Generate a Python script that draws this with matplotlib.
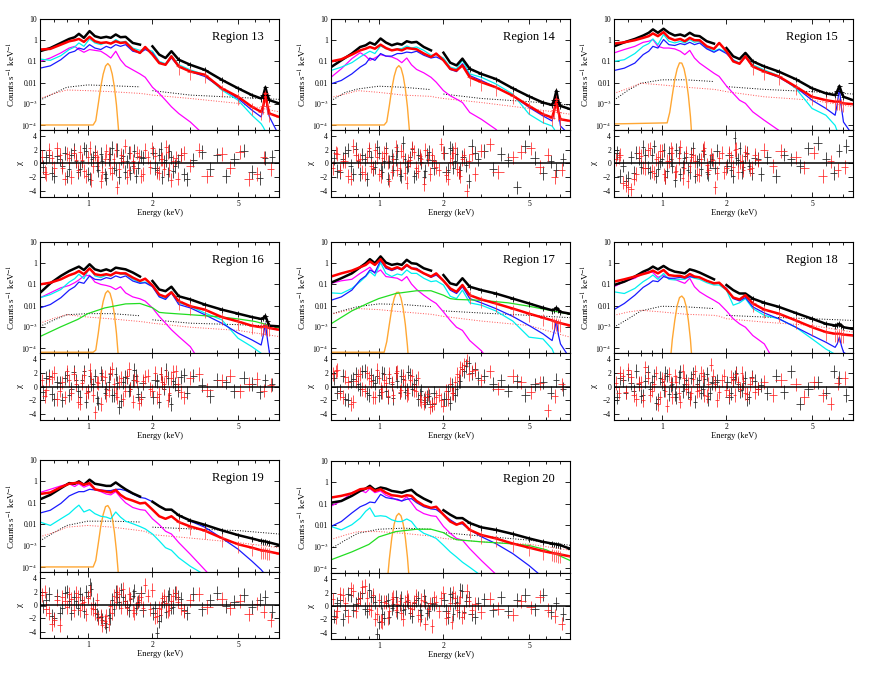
import numpy as np
import matplotlib
matplotlib.use('Agg')
import matplotlib.pyplot as plt
from matplotlib.ticker import FixedLocator, NullFormatter, NullLocator

plt.rcParams['font.family'] = ['Liberation Serif', 'DejaVu Serif']
plt.rcParams['mathtext.fontset'] = 'stix'

nan = np.nan
REGIONS = [13, 14, 15, 16, 17, 18, 19, 20]

# energy grid (keV) of the model / data curves
E_GRID = [0.6, 0.67, 0.75, 0.82, 0.87, 0.91, 0.96, 1.02, 1.08, 1.15, 1.22, 1.28,
          1.35, 1.42, 1.5, 1.62, 1.75, 1.85, 2.0, 2.15, 2.3, 2.45, 2.65, 3.0,
          3.5, 4.2, 5.0, 5.8, 6.4, 6.55, 6.7, 6.85, 7.0, 7.75]
E_BKG = [0.6, 0.7, 0.8, 1.0, 1.3, 1.75, 1.85, 2.0, 3.0, 5.0, 7.75]
E_GREEN = [0.6, 0.75, 0.9, 1.0, 1.2, 1.5, 1.75, 2.0, 2.15, 2.3, 3.0, 4.0, 5.0, 6.0, 7.75]
E_LINE = [0.6, 1.06, 1.09, 1.12, 1.15, 1.18, 1.21, 1.24, 1.27, 1.30, 1.33, 1.36, 1.39, 1.42]

# all spectra below are log10(counts s^-1 keV^-1)
black_spec = {
    13: [-0.52, -0.37, -0.13, 0.06, 0.14, 0.30, 0.11, 0.43, 0.19, 0.11, 0.16, 0.11, 0.27, 0.14, 0.16, -0.13, -0.21, nan, -0.29, -0.68, -0.84, -0.52, -0.92, -1.16, -1.40, -1.87, -2.27, -2.59, -2.75, -2.6, -2.22, -2.6, -2.83, -2.98],
    14: [-1.27, -0.95, -0.63, -0.32, -0.24, -0.11, -0.21, 0.08, -0.11, -0.24, -0.16, -0.21, -0.05, -0.11, -0.08, -0.32, -0.48, nan, -0.59, -1.06, -1.19, -0.87, -1.35, -1.59, -1.83, -2.27, -2.65, -2.94, -3.06, -2.8, -2.38, -2.9, -3.10, -3.25],
    15: [-0.29, -0.10, 0.06, 0.22, 0.35, 0.51, 0.35, 0.54, 0.35, 0.22, 0.27, 0.19, 0.35, 0.22, 0.19, -0.05, -0.16, nan, -0.37, -0.76, -0.89, -0.60, -1.00, -1.24, -1.48, -1.84, -2.27, -2.51, -2.59, -2.4, -2.16, -2.45, -2.67, -2.83],
    16: [-1.40, -0.95, -0.60, -0.37, -0.25, -0.16, -0.32, -0.05, -0.29, -0.37, -0.29, -0.37, -0.21, -0.25, -0.29, -0.44, -0.63, nan, -0.84, -1.24, -1.32, -1.11, -1.56, -1.71, -1.95, -2.19, -2.38, -2.54, -2.63, -2.58, -2.48, -2.75, -2.95, -2.98],
    17: [-0.92, -0.71, -0.48, -0.19, 0.0, 0.19, 0.0, 0.32, 0.03, -0.08, -0.03, -0.08, 0.16, 0.0, -0.03, -0.24, -0.35, nan, -0.56, -0.95, -1.03, -0.71, -1.11, -1.27, -1.43, -1.67, -1.90, -2.10, -2.22, -2.18, -2.10, -2.2, -2.30, -2.38],
    18: [-1.03, -0.87, -0.63, -0.40, -0.29, -0.16, -0.29, -0.13, -0.29, -0.40, -0.44, -0.48, -0.29, -0.35, -0.44, -0.60, -0.76, nan, -1.03, -1.27, -1.43, -1.43, -1.67, -1.87, -2.06, -2.35, -2.62, -2.86, -2.94, -2.9, -2.86, -2.95, -3.02, -3.10],
    19: [-0.84, -0.63, -0.32, -0.08, -0.11, 0.0, -0.16, 0.08, -0.11, -0.16, -0.21, -0.21, -0.05, -0.21, -0.37, -0.56, -0.71, nan, -0.95, -1.16, -1.32, -1.32, -1.59, -1.83, -2.03, -2.29, -2.51, -2.67, -2.78, -2.8, -2.81, -2.84, -2.86, -2.97],
    20: [-0.95, -0.87, -0.63, -0.40, -0.29, -0.16, -0.35, -0.24, -0.29, -0.40, -0.44, -0.48, -0.40, -0.35, -0.56, -0.76, -0.92, nan, -1.30, -1.51, -1.67, -1.67, -1.90, -2.10, -2.22, -2.41, -2.62, -2.78, -2.86, -2.88, -2.89, -2.92, -2.94, -3.10],
}
red_spec = {
    13: [-0.44, -0.41, -0.21, -0.05, 0.0, 0.06, -0.08, 0.16, -0.05, -0.13, -0.10, -0.16, -0.05, -0.13, -0.10, -0.44, -0.60, -0.32, -0.68, -1.08, -1.16, -0.76, -1.24, -1.48, -1.63, -2.27, -2.67, -3.14, -3.38, -3.1, -2.51, -3.1, -3.46, -3.62],
    14: [-1.0, -0.9, -0.68, -0.48, -0.40, -0.32, -0.40, -0.21, -0.37, -0.48, -0.43, -0.48, -0.37, -0.40, -0.43, -0.63, -0.79, -0.63, -0.95, -1.35, -1.43, -1.19, -1.75, -1.98, -2.22, -2.62, -3.10, -3.49, -3.65, -3.3, -2.78, -3.4, -3.73, -3.81],
    15: [-0.16, -0.10, 0.0, 0.11, 0.19, 0.32, 0.19, 0.38, 0.11, 0.0, 0.06, -0.05, 0.11, 0.0, 0.0, -0.29, -0.41, -0.13, -0.52, -1.00, -1.11, -0.76, -1.24, -1.48, -1.71, -2.19, -2.67, -2.83, -2.90, -2.9, -2.9, -2.95, -2.98, -3.02],
    16: [-1.0, -0.92, -0.76, -0.57, -0.48, -0.37, -0.52, -0.25, -0.52, -0.57, -0.52, -0.57, -0.44, -0.48, -0.48, -0.68, -0.84, -0.73, -1.05, -1.48, -1.59, -1.37, -1.79, -2.03, -2.19, -2.54, -2.75, -2.95, -3.02, -3.0, -2.98, -3.03, -3.06, -3.14],
    17: [-0.63, -0.48, -0.35, -0.19, -0.08, 0.08, -0.08, 0.19, -0.16, -0.29, -0.19, -0.29, -0.08, -0.24, -0.29, -0.48, -0.63, -0.48, -0.83, -1.19, -1.35, -1.03, -1.51, -1.71, -1.90, -2.14, -2.38, -2.57, -2.70, -2.74, -2.78, -2.8, -2.83, -2.94],
    18: [-0.87, -0.76, -0.63, -0.51, -0.44, -0.35, -0.48, -0.32, -0.56, -0.60, -0.60, -0.67, -0.51, -0.63, -0.67, -0.83, -0.95, -0.92, -1.24, -1.62, -1.71, -1.51, -1.90, -2.19, -2.38, -2.70, -3.02, -3.25, -3.33, -3.33, -3.33, -3.35, -3.37, -3.41],
    19: [-0.59, -0.52, -0.27, -0.11, -0.08, -0.05, -0.16, -0.08, -0.37, -0.43, -0.48, -0.52, -0.40, -0.63, -0.79, -0.90, -1.03, -1.00, -1.32, -1.63, -1.75, -1.63, -1.90, -2.11, -2.30, -2.65, -2.94, -3.10, -3.22, -3.24, -3.25, -3.27, -3.29, -3.38],
    20: [-0.71, -0.63, -0.51, -0.32, -0.29, -0.24, -0.40, -0.32, -0.48, -0.60, -0.63, -0.67, -0.60, -0.63, -0.87, -1.08, -1.19, -1.14, -1.51, -1.83, -1.98, -1.87, -2.22, -2.46, -2.62, -2.86, -3.05, -3.21, -3.30, -3.32, -3.33, -3.35, -3.37, -3.46],
}
cyan_comp = {
    13: [-0.89, -0.95, -0.73, -0.44, -0.32, -0.13, -0.29, 0.06, -0.13, -0.21, -0.10, -0.16, 0.03, -0.10, -0.05, -0.37, -0.48, -0.41, -0.52, -1.00, -1.11, -0.73, -1.16, -1.40, -1.63, -2.35, -2.83, -3.54, -3.94, -4.1, -4.3, -4.5, -4.5, -4.5],
    14: [-1.43, -1.27, -1.06, -0.79, -0.63, -0.52, -0.63, -0.27, -0.40, -0.48, -0.40, -0.40, -0.27, -0.37, -0.32, -0.48, -0.71, -0.68, -0.84, -1.27, -1.35, -0.95, -1.59, -1.75, -2.06, -2.54, -3.49, -3.89, -4.05, -4.2, -4.5, -4.5, -4.5, -4.5],
    15: [-1.0, -0.92, -0.63, -0.29, -0.16, 0.06, -0.21, 0.27, -0.05, -0.13, -0.05, -0.13, 0.03, -0.10, -0.05, -0.37, -0.52, -0.41, -0.57, -0.92, -1.08, -0.73, -1.16, -1.40, -1.68, -2.27, -3.22, -3.54, -4.02, -4.3, -4.5, -4.5, -4.5, -4.5],
    16: [-1.63, -1.48, -1.24, -0.89, -0.73, -0.52, -0.73, -0.21, -0.60, -0.68, -0.57, -0.60, -0.41, -0.52, -0.52, -0.76, -0.92, -0.89, -1.08, -1.56, -1.68, -1.32, -1.87, -2.03, -2.35, -2.67, -3.54, -3.94, -4.25, -4.4, -4.5, -4.5, -4.5, -4.5],
    17: [-1.40, -1.43, -1.19, -0.87, -0.63, -0.40, -0.60, 0.03, -0.48, -0.63, -0.51, -0.56, -0.32, -0.48, -0.48, -0.71, -0.87, -0.83, -1.03, -1.56, -1.67, -1.27, -1.87, -1.98, -2.25, -2.73, -3.49, -3.57, -4.05, -4.3, -4.5, -4.5, -4.5, -4.5],
    18: [-1.35, -1.43, -1.19, -0.87, -0.71, -0.56, -0.76, -0.48, -0.76, -0.79, -0.76, -0.76, -0.63, -0.71, -0.76, -0.92, -1.03, -1.03, -1.27, -1.98, -1.87, -1.67, -2.14, -2.46, -2.62, -3.02, -3.57, -4.05, -4.3, -4.5, -4.5, -4.5, -4.5, -4.5],
    19: [-1.90, -2.06, -1.75, -1.51, -1.27, -1.11, -1.43, -1.32, -1.51, -1.63, -1.67, -1.75, -1.43, -1.67, -1.86, -1.98, -2.11, -2.22, -2.46, -2.78, -3.10, -3.22, -3.57, -3.97, -4.37, -5, -5, -5, -5, -5, -5, -5, -5, -5],
    20: [-2.06, -2.22, -1.98, -1.67, -1.35, -1.19, -1.59, -1.56, -1.59, -1.75, -1.83, -1.83, -1.71, -1.83, -2.14, -2.38, -2.51, -2.62, -2.94, -3.25, -3.49, -3.73, -3.97, -4.37, -5, -5, -5, -5, -5, -5, -5, -5, -5, -5],
}
blue_comp = {
    13: [-1.32, -1.21, -0.92, -0.60, -0.52, -0.37, -0.44, -0.21, -0.37, -0.44, -0.29, -0.37, -0.21, -0.29, -0.21, -0.52, -0.60, -0.44, -0.60, -1.05, -1.16, -0.84, -1.24, -1.48, -1.71, -2.27, -2.75, -3.30, -3.62, -3.2, -2.27, -3.3, -3.62, -4.5],
    14: [-2.06, -1.90, -1.59, -1.27, -1.11, -0.84, -0.95, -0.63, -0.75, -0.75, -0.63, -0.63, -0.56, -0.59, -0.52, -0.71, -0.84, -0.79, -0.95, -1.38, -1.48, -1.11, -1.67, -1.90, -2.22, -2.62, -3.17, -3.57, -3.81, -3.3, -2.54, -3.4, -4.05, -4.5],
    15: [-1.43, -1.32, -1.08, -0.68, -0.52, -0.29, -0.37, 0.03, -0.21, -0.25, -0.16, -0.21, -0.10, -0.21, -0.13, -0.41, -0.57, -0.44, -0.63, -0.95, -1.11, -0.79, -1.24, -1.48, -1.75, -2.22, -2.83, -3.22, -3.54, -3.0, -2.27, -3.2, -3.86, -4.5],
    16: [-2.11, -1.95, -1.63, -1.27, -1.11, -0.89, -0.95, -0.60, -0.76, -0.79, -0.68, -0.73, -0.60, -0.68, -0.60, -0.84, -0.95, -0.92, -1.11, -1.59, -1.71, -1.40, -1.95, -2.11, -2.43, -2.83, -3.30, -3.62, -3.86, -3.4, -2.83, -3.6, -4.25, -4.5],
    17: [-1.75, -1.59, -1.27, -0.79, -0.60, -0.32, -0.44, 0.13, -0.24, -0.35, -0.24, -0.32, -0.13, -0.24, -0.24, -0.48, -0.67, -0.56, -0.83, -1.27, -1.43, -1.11, -1.67, -1.87, -2.14, -2.51, -2.94, -3.33, -3.65, -3.2, -2.70, -3.4, -3.81, -4.5],
    18: [-2.19, -1.90, -1.51, -1.14, -0.98, -0.83, -0.87, -0.63, -0.71, -0.71, -0.67, -0.71, -0.63, -0.67, -0.67, -0.83, -0.95, -0.95, -1.19, -1.67, -1.78, -1.62, -2.06, -2.35, -2.62, -3.02, -3.41, -3.73, -3.97, -3.8, -3.49, -3.9, -4.2, -4.5],
    19: [-1.48, -1.35, -1.03, -0.68, -0.56, -0.48, -0.48, -0.37, -0.40, -0.40, -0.43, -0.43, -0.37, -0.37, -0.43, -0.59, -0.75, -0.79, -0.95, -1.16, -1.32, -1.32, -1.59, -1.86, -2.14, -2.65, -3.17, -3.73, -4.13, -4.25, -4.37, -4.5, -4.6, -5],
    20: [-2.06, -1.83, -1.43, -1.14, -1.03, -0.92, -0.95, -0.56, -0.71, -0.76, -0.79, -0.87, -0.79, -0.76, -0.95, -1.14, -1.24, -1.27, -1.51, -1.75, -1.94, -1.94, -2.22, -2.54, -2.86, -3.33, -3.89, -4.44, -5, -5, -5, -5, -5, -5],
}
magenta_comp = {
    13: [-1.00, -0.84, -0.60, -0.37, -0.29, -0.44, -0.57, -0.44, -0.48, -0.52, -0.68, -0.84, -0.52, -0.92, -1.21, -1.40, -1.59, -1.75, -2.22, -2.51, -2.83, -3.14, -3.46, -3.86, -4.5, -5, -5, -5, -5, -5, -5, -5, -5, -5],
    14: [-1.75, -1.35, -0.87, -0.59, -0.75, -0.95, -0.84, -0.68, -0.75, -0.79, -0.90, -1.06, -0.84, -1.16, -1.38, -1.54, -1.75, -1.98, -2.38, -2.62, -2.78, -2.94, -3.41, -3.73, -4.2, -5, -5, -5, -5, -5, -5, -5, -5, -5],
    15: [-0.60, -0.44, -0.29, -0.10, -0.05, 0.03, -0.29, -0.37, -0.37, -0.41, -0.52, -0.68, -0.48, -0.84, -1.08, -1.32, -1.56, -1.71, -2.16, -2.51, -2.83, -2.98, -3.38, -3.78, -4.25, -5, -5, -5, -5, -5, -5, -5, -5, -5],
    16: [-1.63, -1.40, -1.16, -1.05, -0.92, -0.79, -0.60, -0.57, -0.89, -1.00, -1.05, -1.11, -1.24, -1.11, -1.40, -1.59, -1.68, -1.79, -2.11, -2.51, -2.83, -3.14, -3.46, -3.94, -5, -5, -5, -5, -5, -5, -5, -5, -5, -5],
    17: [-0.95, -0.83, -0.76, -0.48, -0.32, -0.19, -0.48, -0.32, -0.63, -0.67, -0.71, -0.83, -0.63, -0.98, -1.24, -1.51, -1.75, -1.90, -2.30, -2.70, -3.02, -3.17, -3.65, -4.13, -5, -5, -5, -5, -5, -5, -5, -5, -5, -5],
    18: [-1.11, -0.87, -0.71, -0.48, -0.40, -0.44, -0.67, -0.56, -0.71, -0.76, -0.87, -0.95, -0.71, -1.11, -1.35, -1.56, -1.75, -1.90, -2.25, -2.62, -2.86, -3.02, -3.41, -3.81, -5, -5, -5, -5, -5, -5, -5, -5, -5, -5],
    19: [-0.52, -0.37, -0.21, -0.11, -0.24, -0.11, -0.27, -0.16, -0.37, -0.48, -0.59, -0.63, -0.48, -0.75, -1.00, -1.22, -1.32, -1.35, -1.75, -2.02, -2.33, -2.46, -2.86, -3.41, -4.13, -5, -5, -5, -5, -5, -5, -5, -5, -5],
    20: [-1.11, -0.87, -0.48, -0.35, -0.48, -0.29, -0.48, -0.40, -0.60, -0.71, -0.83, -0.87, -0.67, -0.95, -1.27, -1.46, -1.56, -1.59, -2.06, -2.38, -2.62, -2.70, -3.10, -3.65, -4.29, -5, -5, -5, -5, -5, -5, -5, -5, -5],
}
green_comp = {
    16: [-3.46, -3.0, -2.65, -2.38, -2.11, -1.92, -1.9, -2.1, -2.32, -2.35, -2.43, -2.52, -2.63, -2.75, -3.05],
    17: [-2.86, -2.25, -1.87, -1.67, -1.43, -1.30, -1.30, -1.51, -1.67, -1.71, -1.75, -1.87, -2.03, -2.19, -2.41],
    20: [-3.62, -3.25, -2.90, -2.55, -2.30, -2.19, -2.19, -2.35, -2.55, -2.68, -2.78, -2.86, -2.95, -3.15, -3.65],
}
orange_line = {
    13: [-4.0, -4.0, -3.8, -3.0, -2.2, -1.6, -1.22, -1.1, -1.22, -1.6, -2.2, -3.05, -4.2, -6],
    14: [-4.0, -4.0, -3.85, -3.1, -2.3, -1.7, -1.32, -1.2, -1.32, -1.7, -2.3, -3.15, -4.3, -6],
    15: [-3.95, -3.9, -3.4, -2.6, -1.85, -1.35, -1.07, -1.08, -1.35, -1.85, -2.6, -3.6, -5, -6],
    16: [-4.2, -4.2, -4.1, -3.3, -2.4, -1.8, -1.42, -1.3, -1.42, -1.8, -2.4, -3.3, -4.5, -6],
    17: [-4.2, -4.2, -3.7, -2.9, -2.15, -1.65, -1.38, -1.37, -1.65, -2.15, -2.9, -3.9, -5.2, -6],
    18: [-6, -6, -4.9, -3.6, -2.7, -2.0, -1.62, -1.55, -1.67, -2.05, -2.7, -3.6, -4.9, -6],
    19: [-4.0, -4.0, -3.7, -2.9, -2.1, -1.55, -1.18, -1.13, -1.3, -1.7, -2.35, -3.25, -4.4, -6],
    20: [-6, -6, -4.9, -3.6, -2.6, -1.95, -1.57, -1.45, -1.57, -1.95, -2.6, -3.5, -4.7, -6],
}
black_bkg = {
    13: [-2.83, -2.5, -2.22, -2.11, -2.15, -2.2, nan, -2.38, -2.59, -2.7, -2.79],
    14: [-2.86, -2.46, -2.30, -2.17, -2.22, -2.33, nan, -2.54, -2.75, -2.90, -3.06],
    15: [-2.83, -2.35, -2.03, -1.87, -1.87, -1.95, nan, -2.19, -2.32, -2.43, -2.54],
    16: [-2.98, -2.67, -2.43, -2.38, -2.38, -2.48, nan, -2.67, -2.83, -2.90, -2.98],
    17: [-2.40, -2.20, -2.05, -1.92, -1.95, -2.05, nan, -2.25, -2.35, -2.46, -2.57],
    18: [-3.02, -2.62, -2.25, -2.03, -2.06, -2.14, nan, -2.46, -2.54, -2.62, -2.70],
    19: [-2.78, -2.38, -2.06, -1.86, -1.86, -1.90, nan, -2.14, -2.22, -2.30, -2.46],
    20: [-3.10, -2.70, -2.38, -2.19, -2.14, -2.19, nan, -2.35, -2.51, -2.70, -2.94],
}
red_bkg = {
    13: [-2.75, -2.51, -2.35, -2.38, -2.43, -2.51, -2.54, -2.59, -2.75, -2.98, -3.38],
    14: [-2.70, -2.54, -2.38, -2.46, -2.59, -2.65, -2.70, -2.75, -2.94, -3.22, -3.49],
    15: [-2.51, -2.27, -2.03, -2.11, -2.22, -2.32, -2.36, -2.43, -2.67, -2.83, -3.14],
    16: [-2.83, -2.59, -2.43, -2.54, -2.63, -2.75, -2.78, -2.83, -3.02, -3.17, -3.46],
    17: [-2.41, -2.25, -2.14, -2.19, -2.30, -2.41, -2.45, -2.51, -2.73, -2.94, -3.49],
    18: [-2.46, -2.30, -2.22, -2.30, -2.41, -2.46, -2.5, -2.62, -2.78, -2.94, -3.25],
    19: [-2.59, -2.38, -2.14, -2.06, -2.14, -2.30, -2.34, -2.49, -2.65, -2.86, -3.10],
    20: [-2.67, -2.46, -2.30, -2.30, -2.38, -2.51, -2.55, -2.62, -2.78, -2.89, -3.17],
}

# residual energies and chi values (two interleaved sets per instrument)
E_RES_BLACK = [0.62, 0.66, 0.70, 0.74, 0.78, 0.82, 0.86, 0.90, 0.94, 0.98, 1.02, 1.06, 1.10, 1.15, 1.20,
               1.25, 1.30, 1.35, 1.40, 1.46, 1.52, 1.58, 1.65, 1.72, 1.80, 2.02, 2.1, 2.18, 2.26, 2.35,
               2.45, 2.55, 2.7, 2.9, 3.1, 3.4, 3.7, 4.0, 4.4, 4.8, 5.3, 5.8, 6.3, 6.7, 7.2]
E_RES_RED = [0.61, 0.64, 0.68, 0.72, 0.76, 0.80, 0.84, 0.88, 0.92, 0.96, 1.00, 1.04, 1.08, 1.12, 1.17,
             1.22, 1.27, 1.32, 1.37, 1.43, 1.49, 1.55, 1.62, 1.69, 1.77, 1.85, 1.95, 2.05, 2.14, 2.22,
             2.31, 2.4, 2.5, 2.62, 2.8, 3.0, 3.3, 3.6, 4.2, 4.6, 5.1, 5.6, 6.1, 6.6, 7.1]
E_RES_BLACK2 = [0.64, 0.68, 0.72, 0.76, 0.80, 0.84, 0.88, 0.92, 0.96, 1.00, 1.04, 1.08, 1.12, 1.17, 1.22,
                1.27, 1.32, 1.37, 1.43, 1.49, 1.55, 1.62, 1.68, 1.76, 2.06, 2.14, 2.22, 2.30, 2.40, 2.5,
                2.62, 2.8]
E_RES_RED2 = [0.63, 0.66, 0.70, 0.74, 0.78, 0.82, 0.86, 0.90, 0.94, 0.98, 1.02, 1.06, 1.10, 1.15, 1.20,
              1.25, 1.30, 1.35, 1.40, 1.46, 1.52, 1.58, 1.65, 1.73, 1.81, 1.90, 2.0, 2.1, 2.18, 2.26,
              2.35, 2.45, 2.56, 2.7]
black_chi = {
    13: [-0.5, 1.2, -1.8, 0.6, 1.5, -0.8, 2.0, -1.2, 0.4, 1.8, -2.2, 0.9, -0.3, 1.4, -1.6, 0.7, 2.3, -0.9, -2.0, 1.1, 0.3, -1.4, 1.9, -0.6, 0.8, 1.6, -1.0, 2.1, 0.2, -1.5, 0.9, -0.4, 1.3, -2.3, 0.5, 1.7, -0.8, 1.2, -1.8, 0.6, 1.9, -1.2, -2.1, 0.8, 1.0],
    14: [0.8, -1.2, 1.6, -0.4, 2.1, -1.5, 0.6, 1.9, -0.8, 2.4, -1.0, 0.3, -2.2, 1.1, 0.7, -1.6, 3.0, -0.5, 0.9, -1.9, 1.3, 0.2, -1.1, 1.7, -0.7, 1.5, -0.9, 2.0, 0.4, -1.3, 1.0, -0.2, 2.6, 0.6, 1.8, -0.8, 1.4, 0.5, -3.5, 2.5, 0.8, -1.4, 0.3, -1.0, 0.6],
    15: [1.5, -0.3, -2.1, -1.4, 0.8, 2.4, -0.6, 1.2, -1.8, 0.4, 2.0, -1.1, 0.7, -2.4, 1.6, -0.5, 1.0, -1.3, 2.2, 0.3, -0.8, 1.4, -1.6, 0.6, 1.9, -0.4, -1.0, 3.8, 0.5, -1.2, 1.1, -0.3, 0.8, -1.5, 0.9, -1.8, 1.3, 0.6, -0.4, 2.2, 3.0, 0.7, -1.4, 1.9, 2.6],
    16: [-0.8, 1.6, -1.9, 0.5, 1.2, -1.3, 2.1, -0.6, 0.9, -2.2, 1.5, 0.3, -1.7, 2.0, -0.9, 0.7, -1.2, 1.8, -3.0, 0.6, 1.3, -0.4, 2.4, -1.1, 0.5, -1.6, 0.8, 1.9, -0.3, 1.2, -2.6, 0.4, 1.4, -0.9, 1.6, 0.2, -1.4, 1.0, 0.6, -0.7, 1.3, 0.4, -0.8, 0.9, 0.3],
    17: [1.2, -0.6, -1.9, 0.8, 1.8, -0.4, 2.3, -1.2, 0.9, 1.5, -0.8, 1.9, -1.5, 0.4, 2.0, -0.9, 1.1, -0.5, 1.7, 0.3, -1.8, -0.6, -2.2, -1.4, -0.9, -1.8, -0.7, 0.3, -1.2, 0.8, 2.5, 3.0, 2.0, 1.2, 1.5, 0.4, 0.9, -0.6, 0.8, -1.2, 0.3, 0.6, -0.9, 1.0, -0.4],
    18: [-1.5, 0.9, 1.8, -0.6, 0.4, -1.3, 2.1, 0.7, -2.4, 1.2, -0.5, 1.6, 0.2, -1.1, 1.4, -0.7, 0.9, -1.6, 1.8, 0.4, -0.9, 1.1, -1.8, 0.5, 0.9, 0.6, -1.0, 1.4, 0.3, -0.5, 1.2, -1.6, 0.8, 0.2, -1.0, 1.6, -0.8, 2.2, -2.5, -0.4, 0.6, -0.9, 2.2, 1.2, -1.2],
    19: [-0.2, 1.6, -2.0, -1.2, 1.8, 0.6, 1.2, -0.5, 0.8, 2.0, 3.0, 0.2, -1.4, -1.8, -2.6, -1.5, 0.8, 1.9, 0.4, 1.2, -0.3, 0.9, 2.1, 0.5, -0.8, -1.2, -4.2, -1.5, 0.6, 1.3, -0.4, 1.8, 0.9, -1.2, 1.6, -0.6, 0.7, 1.8, -0.2, 0.5, 1.5, -0.3, 0.8, 1.2, -1.0],
    20: [-1.5, 0.9, -0.6, 1.6, 0.3, 1.2, -0.4, 2.4, 1.3, -4.2, 0.6, -1.8, 0.9, -0.3, 1.4, 0.2, -0.6, 0.8, -1.0, 0.4, 1.2, -1.4, 0.6, -0.8, 0.3, 0.9, -1.6, 1.3, 0.5, -0.9, 2.2, 0.8, -1.2, 0.4, 1.0, -0.6, 1.3, -0.8, 0.9, 1.6, -0.5, 1.7, -0.9, 0.4, -1.2],
}
red_chi = {
    13: [1.0, -1.5, 0.8, 2.2, -0.6, 1.4, -2.0, 0.5, 1.7, -1.1, 0.9, -2.4, 1.3, 0.2, -1.3, 1.8, -0.7, 0.6, -3.5, 1.2, 2.6, -0.9, 0.4, 1.6, -1.8, 2.0, -0.5, 1.1, -1.4, 0.7, 2.4, -1.0, 0.3, -2.2, 1.5, -0.3, 2.0, -1.9, 1.4, -0.6, 1.7, -2.3, -1.5, 0.9, -0.8],
    14: [-0.7, 1.4, 0.3, -1.8, 2.6, 0.5, -1.2, 1.0, -0.4, 2.0, -1.6, 0.8, 1.5, -2.5, 0.6, -0.9, 1.8, -1.4, 0.4, 2.3, -0.6, 1.1, -3.0, 0.7, 1.3, -0.5, 2.8, -1.7, 0.2, 1.6, -0.8, -1.9, 1.2, 0.4, -1.5, 1.9, 2.8, -1.2, 0.9, 1.7, 2.2, -0.5, 1.3, -2.0, -0.9],
    15: [0.6, 1.3, -3.2, -3.8, -1.5, 1.1, -0.7, 2.2, -1.4, 0.9, 1.8, -2.0, 0.3, 1.5, -1.1, 2.4, -0.6, -2.6, 1.0, 0.4, -1.7, 2.0, -0.2, 1.2, -3.5, 0.8, -1.3, 1.6, -0.5, 2.1, 0.2, -1.0, 1.4, -0.7, 0.5, 2.0, -0.4, 1.8, 0.9, -0.6, 1.6, -1.8, 0.3, -1.0, -0.5],
    16: [0.9, -0.5, 1.4, -1.8, 0.6, 2.2, -1.0, 0.4, -2.5, 1.7, -0.8, 1.1, -3.8, 0.5, 1.6, -1.2, 2.0, 0.3, -1.5, 1.2, -0.6, 2.6, -2.2, 0.8, -1.9, 1.4, -0.4, 2.0, -1.1, 0.7, 1.5, -0.9, 2.1, 0.4, -1.6, 1.2, 1.8, -0.5, 0.9, 1.6, -0.7, 0.4, 1.1, -0.6, 0.2],
    17: [1.8, 2.4, -1.5, 0.6, -2.2, 1.5, -0.4, 2.0, 0.8, -1.6, 1.3, -0.8, 0.5, 1.9, -1.3, 2.2, -0.5, 0.9, -1.0, 1.6, -0.6, -1.8, -2.5, -1.1, -2.8, -1.5, -2.0, -0.6, 0.4, -1.0, 1.8, 2.8, 3.2, 1.8, 2.4, 0.9, 2.2, -0.3, 1.5, 0.6, -0.8, 0.5, -3.5, -1.4, 0.3],
    18: [0.5, 2.0, -0.8, 1.4, -1.9, 0.6, 2.8, -1.3, 0.3, -2.6, 1.1, -0.6, 1.8, -1.6, 0.7, -2.2, 1.3, 0.4, -1.0, 2.2, -0.5, 1.5, -1.4, 3.2, 0.3, -0.8, 1.6, -1.2, 0.9, 1.8, -0.4, 0.8, -1.1, 1.2, -0.3, 0.7, -1.2, 1.0, 0.3, -1.5, 0.6, -1.3, -2.5, 0.5, 1.2],
    19: [1.5, -0.6, -2.8, 0.8, 1.2, -0.3, 0.9, 1.8, -0.8, 0.4, 1.1, -0.5, -1.2, -2.0, -3.0, -1.6, -0.2, 1.4, 2.0, -0.4, 0.6, 1.6, -0.8, 0.3, 1.2, 3.0, -0.6, -1.8, -0.4, 1.0, 0.3, -0.7, 1.4, 0.5, -0.9, 0.7, 1.6, -0.3, 0.9, -0.5, 0.6, -1.4, 0.2, -1.0, -2.2],
    20: [1.0, -0.8, 1.6, -1.5, 2.3, 0.5, 2.8, 1.2, -0.6, -1.9, 0.9, -2.4, 0.5, -0.7, 1.4, 0.3, -1.1, 0.6, 0.9, -0.4, 1.5, -2.0, 0.8, -0.5, -3.0, 0.6, 1.2, -1.8, 0.4, 2.0, -0.6, 1.3, -1.0, 0.8, 0.3, -0.9, 1.1, -0.4, -1.3, 0.7, -0.2, 1.4, -0.6, -1.5, -2.6],
}
black_chi2 = {
    13: [0.9, -1.4, 1.1, -0.3, -1.9, 1.3, 0.4, -0.8, 2.2, -1.5, 0.6, 1.7, -1.0, 0.3, -2.1, 1.4, -0.6, 2.0, 0.8, -1.2, 1.6, -0.4, -1.8, 1.0, -0.7, 1.3, -2.0, 0.5, 1.8, -1.1, 0.4, -1.6],
    14: [-1.1, 0.7, 2.0, -1.6, 0.4, 1.3, -2.3, 0.9, -0.5, 1.6, -1.2, 2.2, 0.3, -0.9, 1.8, -1.8, 0.6, -0.3, 2.1, -1.4, 0.8, -2.0, 1.2, 0.5, -1.3, 2.3, -0.6, 1.4, -1.0, 0.9, -2.6, 1.6],
    15: [-1.8, -2.6, 0.9, 1.6, -0.5, 1.2, -1.3, 2.5, -0.8, 0.6, -2.0, 1.5, -0.4, 2.0, -1.6, 0.8, -0.9, 1.4, -1.8, 0.6, 1.9, -1.2, 0.4, -0.6, 1.2, -1.9, 0.8, 2.2, -0.5, 1.6, -1.4, 0.7],
    16: [1.3, -1.1, 0.6, -2.0, 1.7, -0.4, 0.9, -1.5, 2.2, -0.7, 0.4, 1.6, -2.4, 1.0, -0.3, 1.9, -1.3, 0.5, -2.1, 1.4, -0.6, 0.9, 1.5, -1.6, 1.0, -2.2, 0.6, 2.4, -1.2, 0.8, -0.5, 1.7],
    17: [-0.9, 1.6, -2.0, 1.1, 0.4, 2.2, -1.0, 1.7, 0.5, -1.3, 2.0, -0.6, 1.3, -1.7, 0.8, 1.5, -0.8, 2.1, -0.4, 0.9, -1.2, -2.0, -1.5, -2.6, -1.9, -2.4, -1.0, -0.4, 0.8, 2.2, 3.4, 2.6],
    18: [1.2, -0.9, 0.5, 2.3, -1.4, 0.8, -0.3, 1.5, -1.9, 0.6, 2.0, -1.1, 0.4, -1.6, 2.1, 0.3, -0.8, 1.3, -2.2, 0.9, -0.4, 1.8, -1.0, 0.6, -1.5, 1.1, 2.0, -0.7, 0.5, -1.8, 1.4, -0.3],
    19: [0.8, -1.6, 1.4, -0.4, 2.0, -1.2, 0.6, 1.6, -0.9, 1.3, 2.4, -0.6, -1.8, -2.2, -3.2, -2.0, -0.6, 1.2, 2.2, 0.6, -0.8, 1.4, -0.5, 1.8, -0.4, -2.4, 0.5, -1.0, 1.6, -0.3, 1.2, -0.8],
    20: [0.4, -2.0, 1.8, -0.6, 1.1, 2.0, -0.8, 1.4, 0.6, -2.4, -1.2, 0.7, -1.6, 0.3, -0.9, 1.2, -0.4, 0.6, -1.5, 0.9, -0.6, 1.5, -1.1, 0.4, -0.7, 1.8, -1.2, 0.6, 2.4, -0.9, 1.3, -1.6],
}
red_chi2 = {
    13: [-1.2, 2.0, -0.6, 1.3, -2.2, 0.8, 1.6, -1.0, 0.5, -1.8, 2.3, -0.4, 1.0, -2.6, 0.7, 1.4, -1.4, 2.0, -0.8, 0.4, -2.0, 1.6, -0.6, 1.1, -1.5, 0.9, 2.2, -1.3, 0.6, -0.8, 1.7, -2.4, 0.8, 1.2],
    14: [1.6, -1.0, 0.4, -2.2, 1.3, 0.6, -1.5, 2.2, -0.7, 0.9, -1.9, 1.5, 0.2, -1.2, 2.4, -0.6, 1.1, -2.8, 0.5, 1.7, -1.1, 0.6, 2.0, -1.5, 0.3, -0.9, 1.6, -2.2, 0.8, 2.2, -1.3, 0.6, -4.0, 1.4],
    15: [0.9, -2.8, -3.5, -2.2, 1.5, -0.6, 2.0, -1.1, 0.6, 1.8, -1.6, 0.4, 2.2, -1.3, 0.8, -2.1, 1.5, -0.4, 1.2, -1.6, 0.6, 2.3, -0.9, 0.5, -1.4, 1.6, -0.7, 0.9, 2.0, -1.2, 0.4, 1.7, -0.8, 1.3],
    16: [-1.4, 1.1, 2.0, -0.6, -1.6, 0.9, 1.8, -2.2, 0.5, -0.9, 2.4, -1.3, 0.6, -2.6, 1.4, -0.5, 2.6, -1.0, 0.7, -1.8, 1.5, -0.4, 1.0, -2.4, 0.8, 1.6, -0.6, -1.6, 1.8, 0.4, -2.0, 1.2, 2.2, -0.8],
    17: [2.2, -1.0, 1.4, -2.6, 0.8, 1.8, -0.6, 1.2, -1.6, 2.4, -0.3, 1.0, -1.4, 0.6, 2.0, -0.8, 1.5, -1.2, 0.9, -0.5, 1.2, -2.2, -1.6, -3.0, -2.4, -1.2, -2.8, -1.8, -1.0, 0.6, 1.4, 2.6, 3.8, 2.2],
    18: [-0.9, 1.6, 2.4, -1.2, 0.5, -2.0, 1.3, -0.6, 2.0, -1.6, 0.8, -2.8, 0.6, 1.5, -1.0, 2.3, -0.3, -1.8, 1.1, -0.7, 2.0, -1.3, 0.4, 1.6, -2.0, 0.9, -0.5, 1.4, -1.2, 0.6, 2.0, -1.0, 0.4, -0.8],
    19: [2.0, -1.2, -2.2, -3.0, 0.6, 1.6, -0.8, 1.2, 0.3, -1.4, 1.9, -0.6, 0.8, -1.6, -2.4, -2.8, -1.2, 0.4, 1.6, 2.4, -0.5, 1.0, -1.2, 0.7, -0.4, 1.4, 2.2, -1.6, -0.6, 1.4, -0.9, 0.6, 1.8, -0.5],
    20: [-1.6, 1.8, 0.4, 2.6, -0.8, 1.2, 3.0, -0.4, 1.6, -1.2, -2.2, 0.6, -1.8, 1.1, -0.6, 0.8, -2.0, 1.4, -0.3, 0.6, -1.4, 0.9, -2.6, 0.4, 1.3, -0.8, 2.0, -1.0, -2.4, 1.2, 0.5, -1.6, 2.2, -0.6],
}

# layout, in pixels of the 872x674 canvas: left, top, split, bottom
W, H = 872, 674
PW = 239
PANEL_BOX = {
    13: (40, 19, 130, 197), 14: (331, 19, 130, 197), 15: (614, 19, 130, 197),
    16: (40, 242, 353, 420), 17: (331, 242, 353, 420), 18: (614, 242, 353, 420),
    19: (40, 460, 572, 638), 20: (331, 461, 573, 639),
}

C_CYAN = '#00f0f0'
C_BLUE = '#1a1aff'
C_MAG = '#ff00ff'
C_ORANGE = '#ffa733'
C_GREEN = '#22dd22'


def style_axis(ax):
    ax.tick_params(which='both', direction='in', top=True, right=True,
                   labelsize=5.5, pad=2, width=0.6)
    ax.tick_params(which='major', length=3.5)
    ax.tick_params(which='minor', length=2)
    for s in ax.spines.values():
        s.set_linewidth(0.8)


def resid(axr, energies, chi, color, alpha):
    e = np.array(energies)
    axr.errorbar(e, chi, yerr=1.0, xerr=0.5 * np.gradient(e), fmt='none',
                 ecolor=color, elinewidth=0.7, alpha=alpha)


def draw_panel(fig, reg):
    left, top, split, bottom = PANEL_BOX[reg]
    ax = fig.add_axes([left / W, 1 - split / H, PW / W, (split - top) / H])
    axr = fig.add_axes([left / W, 1 - bottom / H, PW / W, (bottom - split) / H])

    e = np.array(E_GRID)
    ax.plot(E_BKG, 10 ** np.array(black_bkg[reg]), ':', color='k', lw=0.7)
    ax.plot(E_BKG, 10 ** np.array(red_bkg[reg]), ':', color='#ff5050', lw=0.7)
    ax.plot(E_LINE, 10 ** np.array(orange_line[reg]), color=C_ORANGE, lw=1.0)
    ax.plot(e, 10 ** np.array(magenta_comp[reg]), color=C_MAG, lw=0.9)
    ax.plot(e, 10 ** np.array(cyan_comp[reg]), color=C_CYAN, lw=0.9)
    ax.plot(e, 10 ** np.array(blue_comp[reg]), color=C_BLUE, lw=0.9)
    if reg in green_comp:
        ax.plot(E_GREEN, 10 ** np.array(green_comp[reg]), color=C_GREEN, lw=0.9)

    yb = 10 ** np.array(black_spec[reg])
    yr = 10 ** np.array(red_spec[reg])
    ax.plot(e, yb, color='k', lw=1.8)
    ax.plot(e, yr, color='#ff0000', lw=1.8)
    # binned data at high energy
    hi = e >= 2.6
    ax.errorbar(e[hi], yb[hi], yerr=0.3 * yb[hi], xerr=0.03 * e[hi],
                fmt='none', ecolor='k', elinewidth=0.6)
    ax.errorbar(e[hi], yr[hi], yerr=[0.6 * yr[hi], 0.5 * yr[hi]], xerr=0.03 * e[hi],
                fmt='none', ecolor='#ff3030', elinewidth=0.6, alpha=0.8)

    ax.set_xscale('log')
    ax.set_yscale('log')
    ax.set_xlim(0.6, 7.75)
    ax.set_ylim(5.8e-5, 10)
    ax.yaxis.set_major_locator(FixedLocator([1e-4, 1e-3, 0.01, 0.1, 1, 10]))
    ax.set_yticklabels([r'$10^{-4}$', r'$10^{-3}$', '0.01', '0.1', '1', '10'])
    ax.yaxis.set_minor_locator(NullLocator())
    ax.set_ylabel(r'Counts s$^{-1}$ keV$^{-1}$', fontsize=6.5, labelpad=2)
    ax.text(0.935, 0.84, 'Region %d' % reg, transform=ax.transAxes,
            ha='right', va='center', fontsize=9)

    # residuals
    resid(axr, E_RES_BLACK, black_chi[reg], '#202020', 0.8)
    resid(axr, E_RES_BLACK2, black_chi2[reg], '#202020', 0.8)
    resid(axr, E_RES_RED, red_chi[reg], '#ff1a1a', 0.75)
    resid(axr, E_RES_RED2, red_chi2[reg], '#ff1a1a', 0.75)
    axr.axhline(0, color='k', lw=1.1)
    axr.set_xscale('log')
    axr.set_xlim(0.6, 7.75)
    axr.set_ylim(-4.9, 4.9)
    axr.set_yticks([-4, -2, 0, 2, 4])
    axr.set_ylabel('χ', fontsize=6.5, labelpad=4)
    axr.set_xlabel('Energy (keV)', fontsize=6, labelpad=1)

    for a in (ax, axr):
        a.xaxis.set_major_locator(FixedLocator([1, 2, 5]))
        a.xaxis.set_minor_locator(FixedLocator([0.6, 0.7, 0.8, 0.9, 3, 4, 6, 7]))
        a.xaxis.set_minor_formatter(NullFormatter())
        style_axis(a)
    ax.xaxis.set_major_formatter(NullFormatter())
    axr.set_xticklabels(['1', '2', '5'])


def main():
    fig = plt.figure(figsize=(W / 100, H / 100), dpi=100)
    for reg in REGIONS:
        draw_panel(fig, reg)
    fig.savefig('out.png', dpi=100)


if __name__ == '__main__':
    main()
